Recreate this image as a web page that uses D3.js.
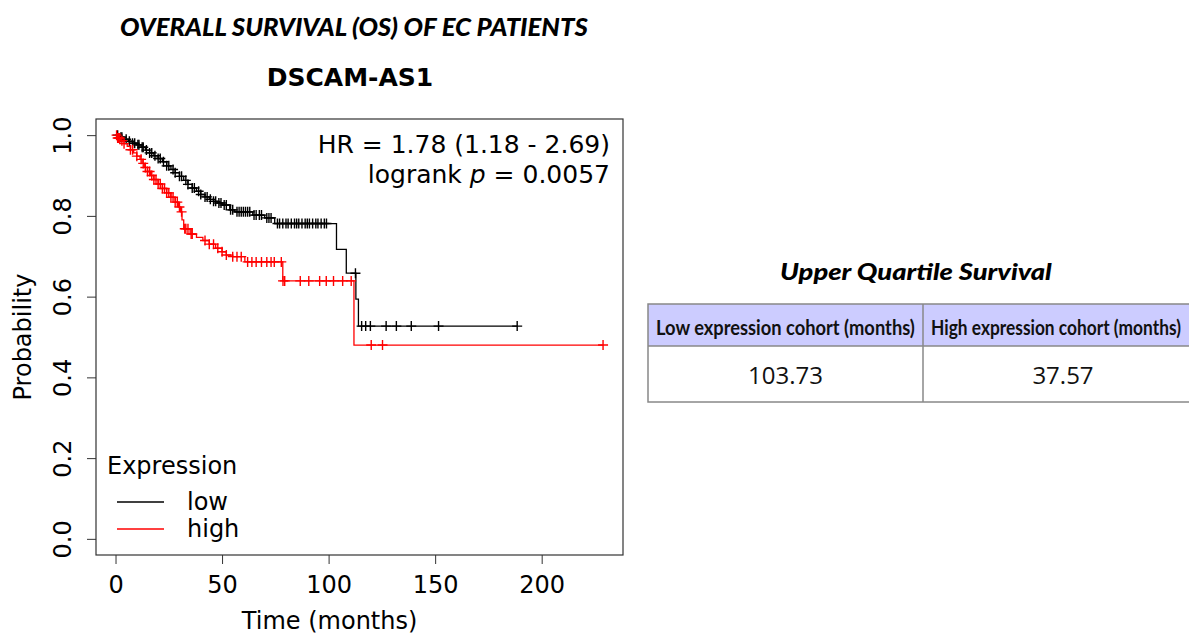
<!DOCTYPE html>
<html>
<head>
<meta charset="utf-8">
<script src="https://cdn.jsdelivr.net/npm/d3@7"></script>
<style>
  body { margin: 0; background: #fff; }
  svg { display: block; }
  text { font-family: "DejaVu Sans", sans-serif; fill: #000; }
</style>
</head>
<body>
<svg id="chart" width="1189" height="635"></svg>
<script>
// KM steps: [time in months, survival after the step]
const lowSteps = [
  [0, 1.0], [2, 0.995], [4, 0.99], [6, 0.985], [8, 0.98], [10, 0.976], [12, 0.97],
  [14, 0.963], [16, 0.956], [18, 0.949], [20, 0.942], [22, 0.934], [24, 0.924],
  [26, 0.915], [28, 0.907], [30, 0.898], [32, 0.888], [34, 0.878], [36, 0.869],
  [38, 0.861], [40, 0.853], [42, 0.847], [44, 0.841], [46, 0.836], [48, 0.832],
  [50, 0.827], [53.6, 0.815], [56, 0.81], [64.4, 0.802], [70, 0.795], [74.7, 0.781],
  [103.7, 0.717], [108.3, 0.658], [112.8, 0.594], [114, 0.527]
];
const lowEnd = 188.5;
const lowCensor = [
  1, 2.5, 3, 5, 6.5, 8, 9, 10.5, 11, 12.5, 13, 14.5, 16, 17, 18.5, 20, 21, 22.5, 24,
  25, 27, 28, 30, 31, 33, 34, 36, 37, 39, 40, 42, 43, 44.5, 46, 47, 48.5, 49.5, 51,
  52, 54, 55, 57, 58, 59, 60, 61, 62, 63, 65, 66, 67.5, 68.5, 71, 72, 73, 76, 77,
  78.5, 80, 81, 82.5, 84, 85, 86, 87.5, 89, 90, 91, 92.5, 94, 95, 96.5, 98, 99,
  112.6, 115.5, 117.4, 119.6, 127, 131.8, 138.8, 151.6, 188.5
];

const highSteps = [
  [0, 1.0], [1, 0.993], [2.5, 0.986], [4, 0.979], [5.5, 0.972], [7, 0.964], [8.5, 0.956],
  [10, 0.948], [11.5, 0.94], [12.5, 0.93], [13.5, 0.92], [15, 0.91], [16.5, 0.9],
  [18, 0.89], [20, 0.879], [22, 0.868], [24, 0.857], [26, 0.846], [28, 0.834],
  [29.5, 0.822], [30.5, 0.81], [31.2, 0.79], [32, 0.768], [35, 0.755], [38, 0.747],
  [41, 0.739], [44, 0.73], [47, 0.72], [50, 0.711], [52, 0.703], [55, 0.699],
  [60.7, 0.686], [78.5, 0.639], [111.9, 0.48]
];
const highEnd = 228.8;
const highCensor = [
  0.5, 1, 1.5, 2, 3, 4, 7, 8, 10, 12, 13, 14, 15, 16, 17, 18, 19, 20, 21, 22, 23,
  24, 25, 26, 27, 28, 29, 30, 31, 32.5, 33, 34, 35.5, 36, 42, 44, 46, 48, 50, 52,
  55, 57, 59, 62, 64, 66, 68.5, 71, 73, 74.5, 77.8, 78.6, 79.4, 86.7, 90.7, 95.8,
  98.9, 102.3, 106.6, 110.6, 120, 125.3, 228.8
];

const xTicks = [0, 50, 100, 150, 200];
const yTicks = [0, 0.2, 0.4, 0.6, 0.8, 1.0];
const groups = ["low", "high"];
const groupColors = ["#000000", "#ff0000"];

const tableTitle = "Upper Quartile Survival";
const tableHeaders = ["Low expression cohort (months)", "High expression cohort (months)"];
const tableValues = ["103.73", "37.57"];

const svg = d3.select("#chart");
svg.append("rect").attr("width", 1189).attr("height", 635).attr("fill", "#fff");

const box = { left: 96, right: 623, top: 119, bottom: 555 };

const x = d3.scaleLinear().domain([-9.16, 238.16]).range([box.left, box.right]);
const y = d3.scaleLinear().domain([-0.04, 1.04]).range([box.bottom, box.top]);

// text fitted horizontally to a given width (Calibri-like look), starting at x0
function fitted(str, x0, y0, width, styles) {
  const g = svg.append("g");
  const t = g.append("text").text(str);
  Object.entries(styles).forEach(([k, v]) => t.style(k, v));
  const w = t.node().getComputedTextLength();
  g.attr("transform", `translate(${x0},${y0}) scale(${width / w},1)`);
  return t;
}

const calibriBI = {
  "font-family": "Lato, 'Open Sans', sans-serif",
  "font-weight": "900", "font-style": "italic", "font-size": "24px"
};

// titles
fitted("OVERALL SURVIVAL (OS) OF EC PATIENTS", 120, 36, 468, calibriBI);

svg.append("text")
  .attr("x", 350).attr("y", 86)
  .attr("text-anchor", "middle")
  .style("font-weight", "bold")
  .style("font-size", "25px")
  .text("DSCAM-AS1");

// axes
const xAxis = svg.append("g")
  .attr("transform", `translate(0,${box.bottom})`)
  .call(d3.axisBottom(x).tickValues(xTicks).tickSize(9).tickFormat(d3.format("d")));
xAxis.select(".domain").remove();
xAxis.selectAll("text").attr("y", 30).attr("dy", "0.35em")
  .style("font-size", "24px").style("font-family", "DejaVu Sans");

const yAxis = svg.append("g")
  .attr("transform", `translate(${box.left},0)`)
  .call(d3.axisLeft(y).tickValues(yTicks).tickSize(9).tickFormat(d3.format(".1f")));
yAxis.select(".domain").remove();
yAxis.selectAll("text")
  .attr("transform", "rotate(-90)")
  .attr("x", 0).attr("y", -33).attr("dy", "0.35em")
  .attr("text-anchor", "middle")
  .style("font-size", "24px").style("font-family", "DejaVu Sans");
svg.selectAll(".tick line").attr("stroke", "#333");

svg.append("rect")
  .attr("x", box.left).attr("y", box.top)
  .attr("width", box.right - box.left).attr("height", box.bottom - box.top)
  .attr("fill", "none").attr("stroke", "#333").attr("stroke-width", 1.2);

svg.append("text")
  .attr("transform", `translate(23,${(box.top + box.bottom) / 2}) rotate(-90)`)
  .attr("text-anchor", "middle").attr("dy", "0.35em")
  .style("font-size", "24px")
  .text("Probability");

svg.append("text")
  .attr("x", (x(0) + x(200)) / 2 + 1).attr("y", 629)
  .attr("text-anchor", "middle")
  .style("font-size", "24px")
  .text("Time (months)");

// curves
function stepPoints(steps, end) {
  const pts = [];
  steps.forEach((s, i) => {
    if (i > 0) pts.push([s[0], steps[i - 1][1]]);
    pts.push(s);
  });
  pts.push([end, steps[steps.length - 1][1]]);
  return pts;
}
function survAt(steps, t) {
  const i = d3.bisector((d) => d[0]).right(steps, t) - 1;
  return steps[Math.max(i, 0)][1];
}

const line = d3.line().x((d) => x(d[0])).y((d) => y(d[1]));
const series = [
  { steps: lowSteps, end: lowEnd, censor: lowCensor, color: groupColors[0] },
  { steps: highSteps, end: highEnd, censor: highCensor, color: groupColors[1] }
];

series.forEach((s) => {
  svg.append("path")
    .datum(stepPoints(s.steps, s.end))
    .attr("d", line)
    .attr("fill", "none")
    .attr("stroke", s.color)
    .attr("stroke-width", 1.3);

  const half = 5;
  svg.append("g").selectAll("path")
    .data(s.censor)
    .join("path")
    .attr("d", (t) => {
      const cx = x(t), cy = y(survAt(s.steps, t));
      return `M${cx - half},${cy}H${cx + half}M${cx},${cy - half}V${cy + half}`;
    })
    .attr("stroke", s.color)
    .attr("stroke-width", 1.4);
});

// HR annotation
const hr = svg.append("text").attr("text-anchor", "end").style("font-size", "25px");
hr.append("tspan").attr("x", 610).attr("y", 153).text("HR = 1.78 (1.18 - 2.69)");
const lr = svg.append("text").attr("text-anchor", "end").style("font-size", "25px")
  .attr("x", 610).attr("y", 183);
lr.append("tspan").text("logrank ");
lr.append("tspan").style("font-style", "italic").text("p");
lr.append("tspan").text(" = 0.0057");

// legend
svg.append("text").attr("x", 107).attr("y", 474).style("font-size", "24px").text("Expression");
groups.forEach((g, i) => {
  const ly = 502 + i * 27;
  svg.append("line")
    .attr("x1", 117).attr("x2", 164).attr("y1", ly).attr("y2", ly)
    .attr("stroke", groupColors[i]).attr("stroke-width", 1.5);
  svg.append("text").attr("x", 187).attr("y", ly).attr("dy", "0.35em")
    .style("font-size", "24px").text(g);
});

// table
const tab = { left: 648, top: 304, headBottom: 346, bottom: 402, mid: 923, right: 1203 };
fitted(tableTitle, 780, 280, 272, { ...calibriBI, "font-size": "23px" });

const cols = [[tab.left, tab.mid], [tab.mid, tab.right]];
svg.append("rect")
  .attr("x", tab.left).attr("y", tab.top)
  .attr("width", tab.right - tab.left).attr("height", tab.headBottom - tab.top)
  .attr("fill", "#ccccff");
svg.append("rect")
  .attr("x", tab.left).attr("y", tab.top)
  .attr("width", tab.right - tab.left).attr("height", tab.bottom - tab.top)
  .attr("fill", "none").attr("stroke", "#888").attr("stroke-width", 1.5);
svg.append("line")
  .attr("x1", tab.left).attr("x2", tab.right).attr("y1", tab.headBottom).attr("y2", tab.headBottom)
  .attr("stroke", "#888").attr("stroke-width", 1.5);
svg.append("line")
  .attr("x1", tab.mid).attr("x2", tab.mid).attr("y1", tab.top).attr("y2", tab.bottom)
  .attr("stroke", "#888").attr("stroke-width", 1.5);

const headStyle = {
  "font-family": "Lato, 'Open Sans', sans-serif",
  "font-weight": "bold", "font-size": "21px", "fill": "#111"
};
tableHeaders.forEach((h, i) => {
  const cx = (cols[i][0] + cols[i][1]) / 2;
  if (i === 0) fitted(h, cx - 259 / 2, 335, 259, headStyle);
  else fitted(h, 931, 335, 250, headStyle);

  svg.append("text")
    .attr("x", cx).attr("y", 384)
    .attr("text-anchor", "middle")
    .style("font-family", "'Open Sans', sans-serif")
    .style("font-size", "24px")
    .style("fill", "#111")
    .text(tableValues[i]);
});
</script>
</body>
</html>
